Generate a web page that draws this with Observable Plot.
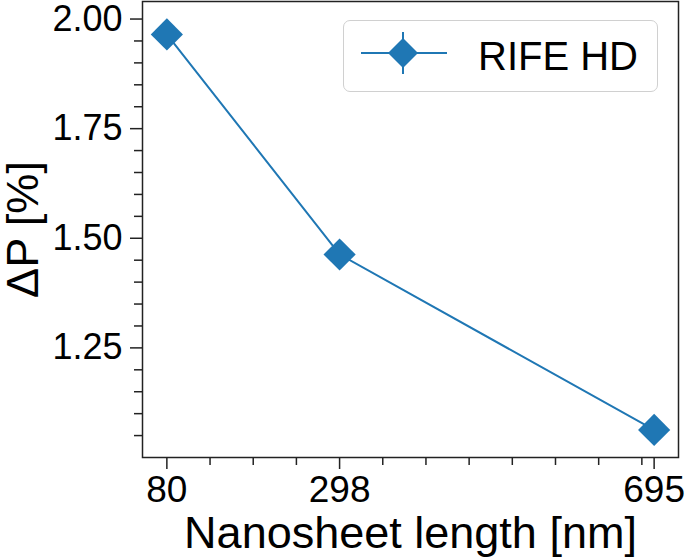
<!DOCTYPE html>
<html>
<head>
<meta charset="utf-8">
<script src="https://cdn.jsdelivr.net/npm/d3@7"></script>
<script src="https://cdn.jsdelivr.net/npm/@observablehq/plot@0.6"></script>
<style>
  body { margin: 0; background: white; }
  #wrap { position: relative; width: 685px; height: 559px; font-family: "Liberation Sans", Arial, sans-serif; }
  #legend { position: absolute; left: 343px; top: 20px; width: 313px; height: 70px; border: 1.5px solid #d0d0d0; border-radius: 7px; background: rgba(255,255,255,0.8); }
  #legend svg { position: absolute; left: 15px; top: 10px; }
  #legend span { position: absolute; left: 134px; top: 12px; font-size: 40px; line-height: 46px; color: #000; }
</style>
</head>
<body>
<div id="wrap">
  <div id="chart"></div>
  <div id="legend">
    <svg width="90" height="46" viewBox="0 0 90 46">
      <line x1="2" y1="22" x2="88" y2="22" stroke="#1f77b4" stroke-width="2"/>
      <line x1="44" y1="1" x2="44" y2="43" stroke="#1f77b4" stroke-width="2"/>
      <path d="M44,7 L59,22 L44,37 L29,22 Z" fill="#1f77b4"/>
    </svg>
    <span>RIFE HD</span>
  </div>
</div>
<script>
const lengths = [80, 298, 695];
const deltaP = [1.965, 1.463, 1.063];
const errors = [0.029, 0.02, 0.014];
const xMajorTicks = [80, 298, 695];
const xMinorTicks = [134.5, 189, 243.5, 352.5, 407, 461.5, 516, 570.5, 625, 679.5];
const yMajorTicks = [1.25, 1.50, 1.75, 2.00];
const yMinorTicks = [1.05, 1.10, 1.15, 1.20, 1.30, 1.35, 1.40, 1.45, 1.55, 1.60, 1.65, 1.70, 1.80, 1.85, 1.90, 1.95];
const seriesName = "RIFE HD";
const xLabel = "Nanosheet length [nm]";
const yLabel = "ΔP [%]";

const data = lengths.map((x, i) => ({x, y: deltaP[i], e: errors[i]}));
const blue = "#1f77b4";
const ink = "#222";

const chart = Plot.plot({
  width: 685,
  height: 559,
  marginLeft: 142,
  marginRight: 7,
  marginTop: 1,
  marginBottom: 102,
  x: {domain: [49.25, 725.75], label: null},
  y: {domain: [1.0, 2.04], label: null},
  style: {fontFamily: "'Liberation Sans', Arial, sans-serif", color: ink, background: "white", overflow: "visible"},
  marks: [
    Plot.axisX(xMajorTicks, {tickSize: 12, tickPadding: 6, fontSize: 37, fill: "#000", strokeWidth: 1.5, tickFormat: d => String(d), label: null}),
    Plot.axisX(xMinorTicks, {tickSize: 8, strokeWidth: 1.5, tickFormat: () => "", label: null}),
    Plot.axisY(yMajorTicks, {tickSize: 12, tickPadding: 8, fontSize: 36, fill: "#000", strokeWidth: 1.5, tickFormat: d3.format(".2f"), label: null}),
    Plot.axisY(yMinorTicks, {tickSize: 8, strokeWidth: 1.5, tickFormat: () => "", label: null}),
    Plot.frame({stroke: ink, strokeWidth: 1.5}),
    Plot.line(data, {x: "x", y: "y", stroke: blue, strokeWidth: 2}),
    Plot.ruleX(data, {x: "x", y1: d => d.y - d.e, y2: d => d.y + d.e, stroke: blue, strokeWidth: 2}),
    Plot.dot(data, {x: "x", y: "y", symbol: "diamond2", r: 14.5, fill: blue, stroke: "none"}),
    Plot.text([xLabel], {text: d => d, frameAnchor: "bottom", textAnchor: "middle", lineAnchor: "middle", dy: 76, fontSize: 45, fill: "#000"}),
    Plot.text([yLabel], {text: d => d, frameAnchor: "left", textAnchor: "middle", lineAnchor: "middle", rotate: -90, dx: -119, fontSize: 45, fill: "#000"})
  ]
});
document.getElementById("chart").appendChild(chart);
</script>
</body>
</html>
